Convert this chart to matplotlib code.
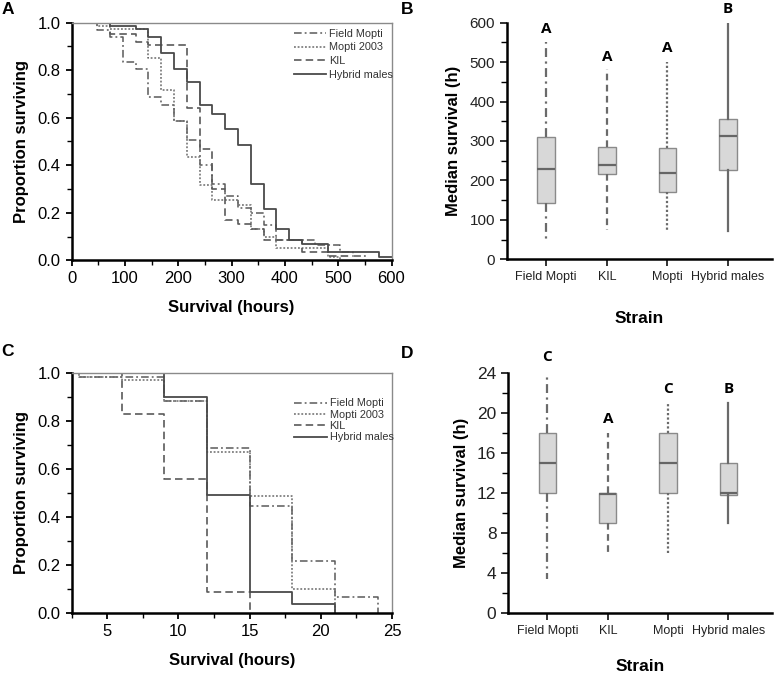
import matplotlib
matplotlib.use("Agg")
import matplotlib.pyplot as plt
from matplotlib.ticker import MultipleLocator

plt.rcParams['font.family'] = ['Liberation Sans', 'DejaVu Sans']

# ---------------- Panel A data (survival, hours) ----------------
a_field_t = [0, 48, 72, 96, 120, 144, 168, 192, 216, 240, 264, 288, 312, 336, 360, 384, 456, 504, 528, 552]
a_field_s = [1.0, 0.969, 0.938, 0.836, 0.804, 0.686, 0.653, 0.585, 0.506, 0.402, 0.322, 0.270, 0.220, 0.200, 0.150, 0.085, 0.066, 0.035, 0.017, 0.017]
a_mopti_t = [0, 48, 72, 144, 168, 192, 216, 240, 264, 312, 336, 360, 384, 480, 504]
a_mopti_s = [1.0, 0.985, 0.972, 0.850, 0.717, 0.585, 0.435, 0.316, 0.253, 0.232, 0.130, 0.100, 0.050, 0.014, 0.0]
a_kil_t = [0, 72, 120, 144, 216, 240, 264, 288, 312, 336, 360, 432, 480, 528]
a_kil_s = [1.0, 0.953, 0.920, 0.905, 0.639, 0.470, 0.302, 0.168, 0.152, 0.130, 0.085, 0.035, 0.017, 0.017]
a_hyb_t = [0, 72, 120, 144, 168, 192, 216, 240, 264, 288, 312, 336, 360, 384, 408, 432, 480, 576, 600]
a_hyb_s = [1.0, 0.986, 0.972, 0.938, 0.871, 0.804, 0.752, 0.654, 0.616, 0.552, 0.486, 0.320, 0.218, 0.133, 0.084, 0.068, 0.035, 0.015, 0.015]

# ---------------- Panel C data ----------------
c_field_t = [0, 3, 9, 12, 15, 18, 21, 24]
c_field_s = [1.0, 0.986, 0.886, 0.690, 0.446, 0.217, 0.067, 0.0]
c_mopti_t = [0, 3, 6, 9, 12, 15, 18, 21]
c_mopti_s = [1.0, 0.986, 0.970, 0.886, 0.673, 0.487, 0.100, 0.0]
c_kil_t = [0, 6, 9, 12, 15]
c_kil_s = [1.0, 0.830, 0.560, 0.085, 0.0]
c_hyb_t = [0, 9, 12, 15, 18, 21]
c_hyb_s = [1.0, 0.900, 0.490, 0.085, 0.035, 0.0]

legend_labels = ["Field Mopti", "Mopti 2003", "KIL", "Hybrid males"]

# ---------------- Panel B / D data (box stats) ----------------
strains = ["Field Mopti", "KIL", "Mopti", "Hybrid males"]
b_whislo = [47, 74, 72, 72]
b_q1 = [144, 216, 171, 227]
b_med = [228, 239, 218, 313]
b_q3 = [311, 284, 282, 357]
b_whishi = [552, 482, 501, 597]
b_letters = ["A", "A", "A", "B"]
b_letter_y = [585, 514, 537, 636]

d_whislo = [3.4, 6, 6, 9]
d_q1 = [12, 9, 12, 11.8]
d_med = [15, 11.9, 15, 12]
d_q3 = [18, 12.05, 18, 15]
d_whishi = [24, 18, 21, 21]
d_letters = ["C", "A", "C", "B"]
d_letter_y = [25.6, 19.4, 22.4, 22.4]

W, H = 777, 678
fig = plt.figure(figsize=(W / 100, H / 100), dpi=100)


def frac(left, top, right, bottom):
    return [left / W, 1 - bottom / H, (right - left) / W, (bottom - top) / H]


styles = [
    dict(ls=(0, (5, 2, 1.2, 2)), color="#5a5a5a", lw=1.1),
    dict(ls=(0, (1.2, 1.2)), color="#6a6a6a", lw=1.1),
    dict(ls=(0, (4.5, 2.5)), color="#5a5a5a", lw=1.2),
    dict(ls="-", color="#4a4a4a", lw=1.3),
]


def km_axes(ax, series, xlim, xmaj, xmin, legend_y, spacing):
    for (t, s), st, lab in zip(series, styles, legend_labels):
        ax.step(t, s, where="post", linestyle=st["ls"], color=st["color"], lw=st["lw"], label=lab)
    ax.set_xlim(*xlim)
    ax.set_ylim(0, 1.0)
    ax.xaxis.set_major_locator(MultipleLocator(xmaj))
    ax.xaxis.set_minor_locator(MultipleLocator(xmin))
    ax.yaxis.set_major_locator(MultipleLocator(0.2))
    ax.yaxis.set_minor_locator(MultipleLocator(0.1))
    ax.yaxis.set_major_formatter(matplotlib.ticker.FormatStrFormatter("%.1f"))
    for side in ("left", "bottom"):
        ax.spines[side].set_linewidth(1.8)
        ax.spines[side].set_color("black")
    for side in ("top", "right"):
        ax.spines[side].set_linewidth(1.0)
        ax.spines[side].set_color("#8a8a8a")
    ax.tick_params(which="major", direction="out", length=4.5, width=1.3, labelsize=12, colors="black",
                   top=False, right=False)
    ax.tick_params(which="minor", direction="out", length=3.5, width=1.0, top=False, right=False)
    ax.set_ylabel("Proportion surviving", fontsize=12, fontweight="bold", labelpad=6)
    ax.set_xlabel("Survival (hours)", fontsize=12, fontweight="bold", labelpad=10)
    leg = ax.legend(loc="upper left", bbox_to_anchor=(0.695, legend_y), frameon=False, fontsize=7.8,
                    handlelength=3.0, handletextpad=0.25, borderpad=0, borderaxespad=0,
                    labelspacing=spacing)
    for txt in leg.get_texts():
        txt.set_color("#333333")


axA = fig.add_axes(frac(71.7, 22.7, 391.5, 260.3))
km_axes(axA, [(a_field_t, a_field_s), (a_mopti_t, a_mopti_s), (a_kil_t, a_kil_s), (a_hyb_t, a_hyb_s)],
        (0, 600), 100, 50, 0.975, 0.35)

axC = fig.add_axes(frac(71.7, 373.3, 392, 612.7))
km_axes(axC, [(c_field_t, c_field_s), (c_mopti_t, c_mopti_s), (c_kil_t, c_kil_s), (c_hyb_t, c_hyb_s)],
        (2.5, 25), 5, 2.5, 0.895, 0.12)

whisker_ls = ["-.", "--", ":", "-"]


def box_axes(ax, whislo, q1, med, q3, whishi, letters, letter_y, ylim, ymaj, ymin, ytick_size, xlabelpad):
    pos = list(range(1, len(strains) + 1))
    stats = []
    for i in range(len(strains)):
        stats.append(dict(whislo=whislo[i], q1=q1[i], med=med[i], q3=q3[i], whishi=whishi[i], label=strains[i]))
    bp = ax.bxp(stats, positions=pos, widths=0.29, patch_artist=True, showcaps=False, showfliers=False,
                boxprops=dict(facecolor="#d8d8d8", edgecolor="#8a8a8a", linewidth=1.0),
                medianprops=dict(color="#666666", linewidth=1.6),
                whiskerprops=dict(color="#6a6a6a", linewidth=1.6))
    for i, ls in enumerate(whisker_ls):
        for w in bp["whiskers"][2 * i:2 * i + 2]:
            if ls == "-.":
                w.set_linestyle((0, (4, 2, 1, 2)))
            elif ls == "--":
                w.set_linestyle((0, (3, 2)))
            elif ls == ":":
                w.set_linestyle((0, (1, 1)))
            else:
                w.set_linestyle("-")
    for p, l, y in zip(pos, letters, letter_y):
        ax.text(p, y, l, ha="center", va="center", fontsize=11, fontweight="bold", clip_on=False,
                family=["Open Sans", "DejaVu Sans"])
    ax.set_xlim(0.35, 4.72)
    ax.set_ylim(*ylim)
    ax.yaxis.set_major_locator(MultipleLocator(ymaj))
    ax.yaxis.set_minor_locator(MultipleLocator(ymin))
    ax.spines["top"].set_visible(False)
    ax.spines["right"].set_visible(False)
    for side in ("left", "bottom"):
        ax.spines[side].set_linewidth(1.8)
    ax.tick_params(axis="y", which="major", direction="out", length=5, width=1.3, labelsize=ytick_size,
                   colors="#222222")
    ax.tick_params(axis="y", which="minor", direction="out", length=4, width=1.0)
    ax.tick_params(axis="x", which="major", direction="out", length=5, width=1.3, labelsize=9, colors="#222222")
    ax.set_ylabel("Median survival (h)", fontsize=12, fontweight="bold", labelpad=6)
    ax.set_xlabel("Strain", fontsize=12.5, fontweight="bold", labelpad=xlabelpad)


axB = fig.add_axes(frac(506.7, 22.7, 771.7, 259.3))
box_axes(axB, b_whislo, b_q1, b_med, b_q3, b_whishi, b_letters, b_letter_y, (0, 600), 100, 50, 11, 20)

axD = fig.add_axes(frac(508.3, 373.3, 771.7, 613.3))
box_axes(axD, d_whislo, d_q1, d_med, d_q3, d_whishi, d_letters, d_letter_y, (0, 24), 4, 2, 12.5, 16)

for lab, x, y in [("A", 8, 10), ("B", 407, 9), ("C", 8, 352), ("D", 407, 353)]:
    fig.text(x / W, 1 - y / H, lab, fontsize=12.5, fontweight="bold", ha="center", va="center")

fig.savefig("out.png", dpi=100)
